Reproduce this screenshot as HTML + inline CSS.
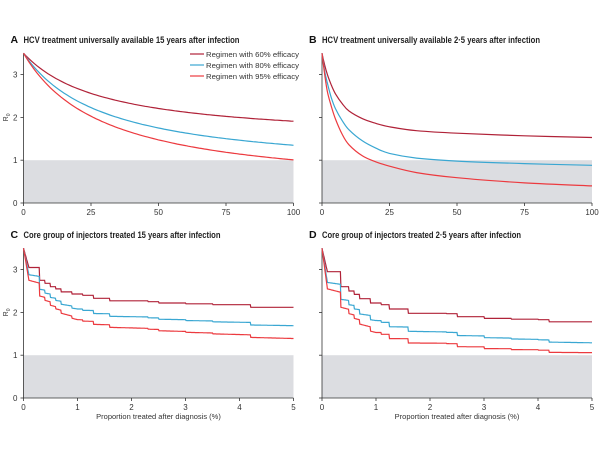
<!DOCTYPE html><html><head><style>body{margin:0;background:#fff}svg{display:block;font-family:"Liberation Sans",sans-serif}</style></head><body>
<svg id="s" width="600" height="450" viewBox="0 0 600 450"></svg>
<script>
const S=document.getElementById('s');let h='';
const C1='#b02238',C2='#3aa7d2',C3='#ec3a3f';
function panel(x0,yb,xmax,ticks,ylab,title,letter,tl,xlab){
 const W=270,U=42.8;const X=v=>x0+v/xmax*W,Y=v=>yb-v*U;
 h+=`<rect x="${x0}" y="${Y(1)}" width="${W}" height="${U}" fill="#dcdde1"/>`;
 h+=`<line x1="${x0}" y1="${Y(3.5)}" x2="${x0}" y2="${yb}" stroke="#333" stroke-width="0.8"/><line x1="${x0}" y1="${yb}" x2="${x0+W}" y2="${yb}" stroke="#333" stroke-width="0.8"/>`;
 for(let i=0;i<=3;i++){h+=`<line x1="${x0-3}" x2="${x0}" y1="${Y(i)}" y2="${Y(i)}" stroke="#333" stroke-width="0.8"/>`;if(ylab)h+=`<text x="${x0-6}" y="${Y(i)+3}" font-size="8" text-anchor="end" fill="#333">${i}</text>`;}
 ticks.forEach(t=>{h+=`<line x1="${X(t)}" x2="${X(t)}" y1="${yb}" y2="${yb+3}" stroke="#333" stroke-width="0.8"/><text x="${X(t)}" y="${yb+12}" font-size="8" text-anchor="middle" fill="#333">${t}</text>`;});
 if(ylab)h+=`<text x="8" y="${Y(2)}" font-size="7" fill="#333" transform="rotate(-90 8 ${Y(2)})" text-anchor="middle">R<tspan font-size="5" dy="2">0</tspan></text>`;
 h+=`<text x="${x0-13}" y="${Y(3.5)-10}" font-size="10.5" font-weight="bold" fill="#111">${letter}</text><text x="${x0}" y="${Y(3.5)-10}" font-size="9" font-weight="bold" fill="#222" textLength="${tl}" lengthAdjust="spacingAndGlyphs">${title}</text>`;
 if(xlab)h+=`<text x="${x0+W/2}" y="${yb+21}" font-size="7.5" text-anchor="middle" fill="#333">Proportion treated after diagnosis (%)</text>`;
 return [X,Y];
}
function line(X,Y,pts,c){h+=`<polyline fill="none" stroke="${c}" stroke-width="1.2" points="${pts.map(p=>X(p[0]).toFixed(1)+','+Y(p[1]).toFixed(1)).join(' ')}"/>`;}
function spline(X,Y,tab,c){const P=tab.map(p=>[X(p[0]),Y(p[1])]);let d=`M${P[0][0]},${P[0][1]}`;
 for(let i=0;i<P.length-1;i++){const p0=P[Math.max(0,i-1)],p1=P[i],p2=P[i+1],p3=P[Math.min(P.length-1,i+2)];
 const c1=[p1[0]+(p2[0]-p0[0])/6,p1[1]+(p2[1]-p0[1])/6],c2=[p2[0]-(p3[0]-p1[0])/6,p2[1]-(p3[1]-p1[1])/6];
 d+=` C${c1[0].toFixed(1)},${c1[1].toFixed(1)} ${c2[0].toFixed(1)},${c2[1].toFixed(1)} ${p2[0].toFixed(1)},${p2[1].toFixed(1)}`;}
 h+=`<path d="${d}" fill="none" stroke="${c}" stroke-width="1.2"/>`;}
function interp(tab,x){for(let i=1;i<tab.length;i++){if(x<=tab[i][0]){const[a,b]=tab[i-1],[c,d]=tab[i];return b+(d-b)*(x-a)/(c-a);}}return tab[tab.length-1][1];}
// A
let [X,Y]=panel(23.5,203,100,[0,25,50,75,100],1,'HCV treatment universally available 15 years after infection','A',216);
const hyp=(a,k)=>{const o=[];for(let x=0;x<=100;x+=1)o.push([x,a+(3.5-a)/(1+x/k)]);return o;};
line(X,Y,hyp(1.434,30),C1);line(X,Y,hyp(0.704,30),C2);line(X,Y,hyp(0.26,30),C3);
[[C1,'Regimen with 60% efficacy'],[C2,'Regimen with 80% efficacy'],[C3,'Regimen with 95% efficacy']].forEach((l,i)=>{const y=54+i*11;h+=`<line x1="190" x2="204" y1="${y}" y2="${y}" stroke="${l[0]}" stroke-width="1.2"/><text x="206" y="${y+3}" font-size="7.5" fill="#333" textLength="93" lengthAdjust="spacingAndGlyphs">${l[1]}</text>`;});
// B
[X,Y]=panel(322,203,100,[0,25,50,75,100],0,'HCV treatment universally available 2·5 years after infection','B',218);
spline(X,Y,[[0,3.5],[1,3.22],[2,3.0],[3.5,2.75],[5,2.55],[7.5,2.32],[10,2.15],[15,1.97],[20,1.86],[25,1.78],[35,1.69],[50,1.63],[75,1.57],[100,1.53]],C1);
spline(X,Y,[[0,3.5],[1,3.08],[2,2.8],[3.5,2.45],[5,2.2],[7.5,1.92],[10,1.71],[15,1.45],[20,1.28],[25,1.16],[35,1.05],[50,0.98],[75,0.92],[100,0.88]],C2);
spline(X,Y,[[0,3.5],[1,3.0],[2,2.6],[3.5,2.25],[5,1.96],[7.5,1.6],[10,1.36],[15,1.1],[20,0.96],[25,0.86],[35,0.71],[50,0.59],[75,0.47],[100,0.40]],C3);
function steps(X,Y,tab,dB,dR){const xs=[];for(let x=0;x<=5.0001;x+=0.01)xs.push(x);
 const st=x=>{let v=tab[0][1];for(const p of tab){if(x>=p[0])v=p[1];}return v;};
 const base=x=>x<0.1?3.5-(3.5-tab[1][1])*x/0.1:st(x);
 line(X,Y,xs.map(x=>[x,base(x)]),C1);
 line(X,Y,xs.map(x=>[x,Math.min(3.5,base(x)-interp(dB,x))]),C2);
 line(X,Y,xs.map(x=>[x,Math.min(3.5,base(x)-interp(dR,x))]),C3);}
// C
[X,Y]=panel(23.5,398,5,[0,1,2,3,4,5],1,'Core group of injectors treated 15 years after infection','C',197,1);
steps(X,Y,[[0,3.5],[0.1,3.05],[0.2,3.05],[0.3,2.75],[0.4,2.68],[0.5,2.6],[0.6,2.55],[0.7,2.48],[0.9,2.43],[1.1,2.4],[1.3,2.33],[1.6,2.27],[2.3,2.25],[2.5,2.22],[3,2.2],[3.5,2.18],[4.2,2.12],[5,2.1]],[[0,0],[0.1,0.17],[1,0.35],[5,0.43]],[[0,0],[0.1,0.3],[1,0.6],[5,0.73]]);
// D
[X,Y]=panel(322,398,5,[0,1,2,3,4,5],0,'Core group of injectors treated 2·5 years after infection','D',199,1);
steps(X,Y,[[0,3.5],[0.1,2.95],[0.2,2.95],[0.35,2.6],[0.5,2.5],[0.6,2.42],[0.7,2.32],[0.9,2.22],[1.1,2.18],[1.25,2.08],[1.6,1.98],[2.3,1.97],[2.5,1.9],[3,1.86],[3.5,1.84],[4,1.83],[4.2,1.78],[5,1.77]],[[0,0],[0.1,0.25],[1,0.41],[5,0.49]],[[0,0],[0.1,0.4],[1,0.69],[5,0.72]]);
S.innerHTML=h;
</script></body></html>
